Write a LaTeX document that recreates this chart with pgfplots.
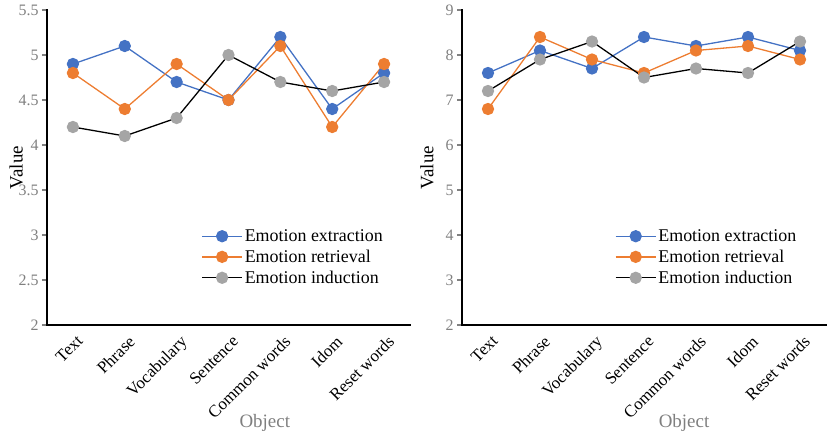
\documentclass[border=0pt]{standalone}
\usepackage{pgfplots}
\pgfplotsset{compat=1.18}
\usepackage{fontspec}
\setmainfont{Liberation Serif}
\definecolor{cblue}{HTML}{4472C4}
\definecolor{corange}{HTML}{ED7D31}
\definecolor{cgray}{HTML}{A5A5A5}
\definecolor{tgray}{HTML}{7F7F7F}
\pgfplotsset{
  myax/.style={
    scale only axis,
    height=315bp,
    axis lines=left,
    axis line style={line width=2.2pt, -},
    xmin=-0.5, xmax=6.5,
    xtick={0,...,6},
    xticklabels={Text,Phrase,Vocabulary,Sentence,Common words,Idom,Reset words},
    major x tick style={draw=none},
    major y tick style={line width=2pt},
    x tick label style={rotate=45, anchor=north east, inner sep=1pt, font=\fontsize{17}{19}\selectfont, text=black, yshift=-4bp},
    y tick label style={font=\fontsize{16}{18}\selectfont, text=tgray},
    tick align=outside,
    major tick length=5bp,
    /pgf/number format/assume math mode=true,
    every axis y label/.style={rotate=90, anchor=center, font=\fontsize{19}{21}\selectfont},
    every axis x label/.style={anchor=center, font=\fontsize{19}{21}\selectfont, text=tgray},
    xlabel={Object}, ylabel={Value},
    legend style={draw=none, fill=none, font=\fontsize{18}{20}\selectfont, anchor=north west, row sep=3bp, inner sep=0pt},
    legend cell align=left,
    legend image code/.code={\draw[mark repeat=2,mark phase=2] plot coordinates {(0bp,0bp)(20bp,0bp)(40bp,0bp)};},
    clip=false,
  },
  s1/.style={cblue, line width=1.3pt, mark=*, mark size=5.5bp, mark options={fill=cblue, draw=cblue}},
  s2/.style={corange, line width=1.3pt, mark=*, mark size=5.5bp, mark options={fill=corange, draw=corange}},
  s3/.style={black, line width=1.3pt, mark=*, mark size=5.5bp, mark options={fill=cgray, draw=cgray}},
  frame/.style={black, line width=2.2pt, mark=none, forget plot, line cap=rect},
}
\begin{document}
\begin{tikzpicture}
\useasboundingbox (0,0) rectangle (829bp,439bp);
\begin{axis}[myax, at={(47bp,114bp)}, anchor=south west, width=363bp,
  ymin=2, ymax=5.5, ytick={2,2.5,...,5.5},
  yticklabels={2,2.5,3,3.5,4,4.5,5,5.5},
  x label style={at={(axis description cs:0.60,-0.31)}},
  y label style={at={(axis description cs:-0.085,0.5)}},
  legend style={at={(axis description cs:0.425,0.31)}}]
\addplot[frame] coordinates {(-0.5,5.5)(-0.5,2)(6.5,2)};
\addplot[s1] coordinates {(0,4.9)(1,5.1)(2,4.7)(3,4.5)(4,5.2)(5,4.4)(6,4.8)};
\addplot[s2] coordinates {(0,4.8)(1,4.4)(2,4.9)(3,4.5)(4,5.1)(5,4.2)(6,4.9)};
\addplot[s3] coordinates {(0,4.2)(1,4.1)(2,4.3)(3,5.0)(4,4.7)(5,4.6)(6,4.7)};
\legend{Emotion extraction,Emotion retrieval,Emotion induction}
\end{axis}
\begin{axis}[myax, at={(462bp,114bp)}, anchor=south west, width=364bp,
  ymin=2, ymax=9, ytick={2,3,...,9},
  x label style={at={(axis description cs:0.61,-0.31)}},
  y label style={at={(axis description cs:-0.096,0.5)}},
  legend style={at={(axis description cs:0.42,0.31)}}]
\addplot[frame] coordinates {(-0.5,9)(-0.5,2)(6.5,2)};
\addplot[s1] coordinates {(0,7.6)(1,8.1)(2,7.7)(3,8.4)(4,8.2)(5,8.4)(6,8.1)};
\addplot[s2] coordinates {(0,6.8)(1,8.4)(2,7.9)(3,7.6)(4,8.1)(5,8.2)(6,7.9)};
\addplot[s3] coordinates {(0,7.2)(1,7.9)(2,8.3)(3,7.5)(4,7.7)(5,7.6)(6,8.3)};
\legend{Emotion extraction,Emotion retrieval,Emotion induction}
\end{axis}
\end{tikzpicture}
\end{document}
